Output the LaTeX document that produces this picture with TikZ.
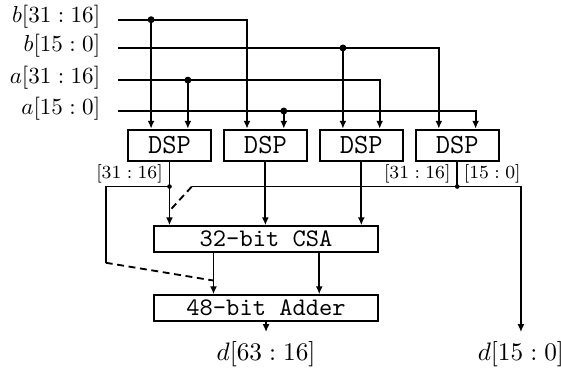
\documentclass[tikz,border=0pt,11pt]{standalone}
\usepackage{amsmath}
\usetikzlibrary{arrows.meta, positioning, calc}

\begin{document}
\begin{tikzpicture}[>={Latex[length=3.4pt,width=3pt]}, line width=0.8pt,
	dsp/.style={draw, line width=0.9pt, minimum width=1.26cm,
		minimum height=0.47cm, inner sep=0pt, font=\large\ttfamily},
	stage/.style={draw, line width=0.9pt, minimum width=3.42cm,
		minimum height=0.39cm, inner sep=0pt, font=\ttfamily},
	port/.style={font=\small, anchor=east, inner sep=0pt},
	bits/.style={font=\scriptsize, inner xsep=2.5pt, inner ysep=0.8pt},
	skip/.style={dash pattern=on 3pt off 2pt}]
	% keep the page size of the reference
	\useasboundingbox (0,0) rectangle (8.54,5.66);
	% operand halves, entering from the left
	\coordinate (bHi) at (1.80,5.36);
	\coordinate (bLo) at (1.80,4.93);
	\coordinate (aHi) at (1.80,4.44);
	\coordinate (aLo) at (1.80,3.97);
	\node[port] (bHiTxt) at (1.54,5.40) {$b[31:16]$};
	\node[port] (bLoTxt) at (1.54,4.97) {$b[15:0]$};
	\node[port] (aHiTxt) at (1.54,4.48) {$a[31:16]$};
	\node[port] (aLoTxt) at (1.54,4.01) {$a[15:0]$};
	% four 16x16 multipliers, two ports each
	\node[dsp] (dsp1) at (2.58,3.45) {DSP};
	\node[dsp] (dsp2) at (4.04,3.45) {DSP};
	\node[dsp] (dsp3) at (5.50,3.45) {DSP};
	\node[dsp] (dsp4) at (6.96,3.45) {DSP};
	\foreach \u in {1,...,4} {
		\coordinate (l\u) at ($(dsp\u.north)+(-0.28,0)$);
		\coordinate (r\u) at ($(dsp\u.north)+(0.28,0)$);
	}
	% b[31:16] -> units 1, 2
	\draw[->] (bHi) -| (l2);
	\draw[->] (l1 |- bHi) -- (l1);
	\fill (l1 |- bHi) circle (1.5pt);
	% b[15:0] -> units 3, 4
	\draw[->] (bLo) -| (l4);
	\draw[->] (l3 |- bLo) -- (l3);
	\fill (l3 |- bLo) circle (1.5pt);
	% a[31:16] -> units 1, 3
	\draw[->] (aHi) -| (r3);
	\draw[->] (r1 |- aHi) -- (r1);
	\fill (r1 |- aHi) circle (1.5pt);
	% a[15:0] -> units 2, 4
	\draw[->] (aLo) -| (r4);
	\draw[->] (r2 |- aLo) -- (r2);
	\fill (r2 |- aLo) circle (1.5pt);
	% slices of the products
	\node[bits, anchor=north east] (hi1) at (dsp1.south) {$[31:16]$};
	\node[bits, anchor=north east] (hi4) at (dsp4.south) {$[31:16]$};
	\node[bits, anchor=north west] (lo4) at (dsp4.south) {$[15:0]$};
	% reduction and final add
	\node[stage] (csa) at (4.05,2.02) {32-bit CSA};
	\node[stage] (adder) at (4.05,0.97) {48-bit Adder};
	\node (dHi) at (4.05,0.27) {$d[63:16]$};
	\node (dLo) at (7.93,0.27) {$d[15:0]$};
	\foreach \u in {1,2,3}
		\draw[->] (dsp\u.south) -- (dsp\u.south |- csa.north);
	\coordinate (cl) at ($(csa.south)+(-0.80,0)$);
	\coordinate (cr) at ($(csa.south)+(0.81,0)$);
	\draw[->] (cl) -- (cl |- adder.north);
	\draw[->] (cr) -- (cr |- adder.north);
	\draw[->] (adder) -- (dHi);
	% unit 4: low half goes straight out, high half joins unit 1
	\coordinate (row) at (0,2.82);
	\coordinate (mergeA) at (2.58,2.45);
	\coordinate (mergeB) at ($(cl)+(0,-0.42)$);
	\draw (dsp4.south) -- (dsp4.south |- row);
	\fill (dsp4.south |- row) circle (1pt);
	\draw[->] (dsp4.south |- row) -| (dLo.north);
	\draw (dsp4.south |- row) -- (2.92,2.82) coordinate (kinkA);
	\draw[skip] (kinkA) -- (mergeA);
	% unit 1: high half bypasses the CSA
	\fill (dsp1.south |- row) circle (1pt);
	\draw (dsp1.south |- row) -| (1.61,1.66) coordinate (kinkB);
	\draw[skip] (kinkB) -- (mergeB);
\end{tikzpicture}
\end{document}
